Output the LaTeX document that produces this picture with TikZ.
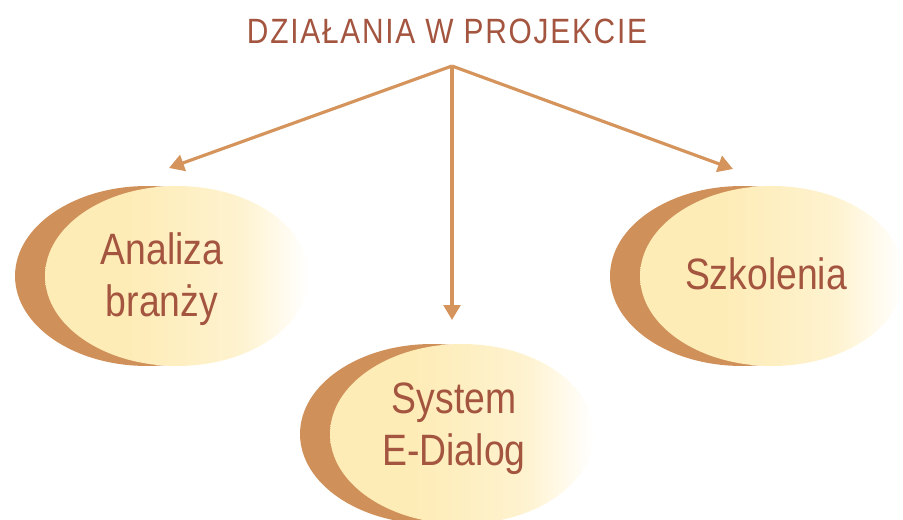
\documentclass[tikz,border=0pt]{standalone}
\usepackage{fontspec}
\setmainfont{Liberation Sans}[FakeStretch=0.85]
\usepackage{xcolor}
\definecolor{rust}{HTML}{A4553F}
\definecolor{copper}{HTML}{D4945C}
\definecolor{crescent}{HTML}{D0905A}
\definecolor{cream}{HTML}{FEECB6}
\usepackage{tikz}
\usetikzlibrary{positioning,arrows.meta}
\pgfdeclarehorizontalshading{creamfade}{100bp}{color(0bp)=(cream); color(40bp)=(cream); color(62bp)=(cream!65!white); color(75bp)=(white); color(100bp)=(white)}
\tikzset{
  back/.style={fill=crescent},
  front/.style={shading=creamfade},
  ovaltext/.style={text=rust, font=\fontsize{25}{29.6}\selectfont, align=center, inner sep=0pt},
  headtext/.style={text=rust, font=\fontsize{20}{24}\selectfont\addfontfeature{LetterSpace=5}, inner sep=0pt},
  pointer/.style={draw=copper, line width=1.8pt, -{Triangle[length=8.5pt,width=9.5pt]}}
}

\begin{document}
\begin{tikzpicture}[x=0.02cm, y=-0.02cm]
\useasboundingbox (0,0) rectangle (903,520);

\node[headtext, anchor=base] (title) at (447,44) {DZIAŁANIA W PROJEKCIE};

%%%ARROWS
\coordinate (apex) at (452,66);
\coordinate (toleft) at (169,168);
\coordinate (tomid) at (452,320);
\coordinate (toright) at (733,169);
\draw[pointer] (apex) -- (toleft);
\draw[pointer] (apex) -- (tomid);
\draw[pointer] (apex) -- (toright);

%%%LEFT OVAL
\fill[back] (147,276) ellipse [x radius=2.64cm, y radius=1.8cm];
\shade[front] (177,276) ellipse [x radius=2.64cm, y radius=1.8cm];
\node[ovaltext] (analiza) at (162,279) {Analiza\\branży};

%%%MIDDLE OVAL
\fill[back] (432,434) ellipse [x radius=2.64cm, y radius=1.8cm];
\shade[front] (462,434) ellipse [x radius=2.64cm, y radius=1.8cm];
\node[ovaltext] (edialog) at (454,429) {System\\E-Dialog};

%%%RIGHT OVAL
\fill[back] (742,276) ellipse [x radius=2.64cm, y radius=1.8cm];
\shade[front] (772,276) ellipse [x radius=2.64cm, y radius=1.8cm];
\node[ovaltext, anchor=base] (szkolenia) at (766,290) {Szkolenia};

\end{tikzpicture}
\end{document}
